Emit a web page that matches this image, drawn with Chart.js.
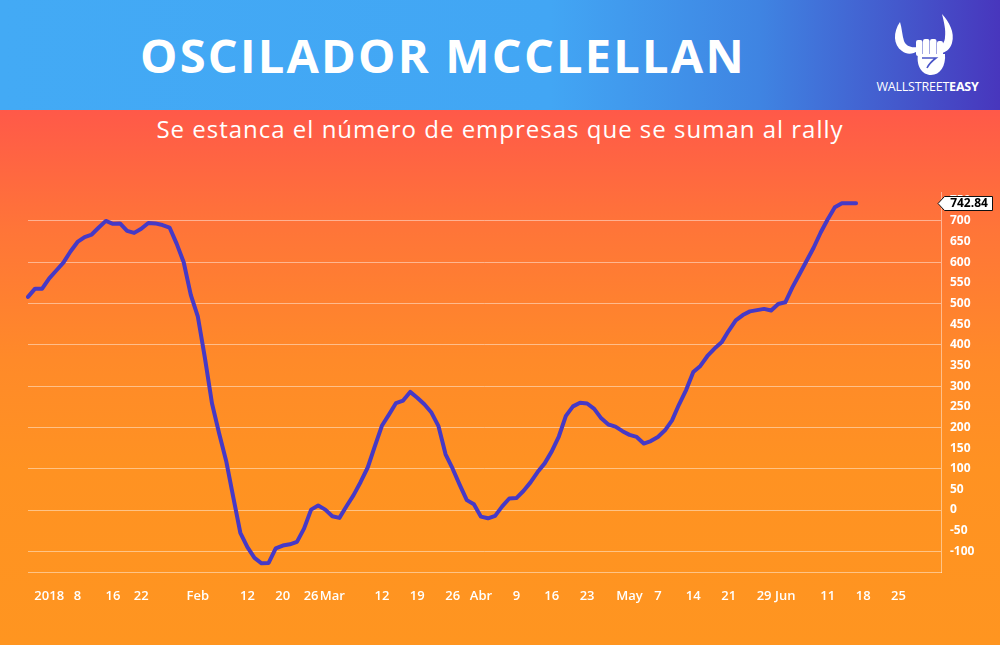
<!DOCTYPE html>
<html>
<head>
<meta charset="utf-8">
<script src="https://cdn.jsdelivr.net/npm/chart.js@4.4.1/dist/chart.umd.min.js"></script>
<style>
  html, body { margin: 0; padding: 0; }
  body {
    width: 1000px; height: 645px; position: relative; overflow: hidden;
    font-family: 'Open Sans', sans-serif;
    background: linear-gradient(180deg, #ff5949 110px, #ff7538 230px, #ff8a29 360px, #ff9222 470px, #ff9520 645px);
  }
  #header {
    position: absolute; left: 0; top: 0; width: 1000px; height: 110px;
    background: linear-gradient(90deg, #43aaf5 0%, #42a6f4 55%, #3f84e2 76%, #4458cc 90%, #4836bd 100%);
  }
  #title {
    position: absolute; left: 0; top: 32px; width: 886px; text-align: center;
    color: #fff; font-weight: 700; font-size: 47px; line-height: 47px; letter-spacing: 2.2px;
  }
  #subtitle {
    position: absolute; left: 0; top: 114px; width: 1000px; text-align: center;
    color: #fff; font-size: 24px; line-height: 30px; letter-spacing: 1px;
  }
  #logo { position: absolute; left: 870px; top: 8px; width: 115px; height: 90px; }
  #logo-text {
    position: absolute; left: 866px; top: 79px; width: 123px; text-align: center;
    color: #fff; font-size: 12.5px; line-height: 15px; letter-spacing: -0.2px;
  }
  #logo-text b { font-weight: 700; }
  #chart { position: absolute; left: 0; top: 0; }
</style>
</head>
<body>
<div id="header"></div>
<div id="title">OSCILADOR MCCLELLAN</div>
<svg id="logo" viewBox="870 8 115 90">
  <path d="M900 22 C893 32 893 45 902 51 C907 55 913 54 918 51 L917 47 C911 48 906 46 904 41 C902 35 902 28 900 22 Z" fill="#fff"/>
  <path d="M942 14 C949 22 955 32 952 43 C950 50 944 54 938 53 L938 47 C942 46 945 42 945 37 C946 30 944 22 942 14 Z" fill="#fff"/>
  <rect x="916" y="40" width="6.5" height="16" rx="2" fill="#fff"/>
  <rect x="923" y="39" width="6.5" height="17" rx="2" fill="#fff"/>
  <rect x="930" y="39" width="6.5" height="17" rx="2" fill="#fff"/>
  <rect x="937" y="41" width="6" height="15" rx="2" fill="#fff"/>
  <path d="M918 54 L945 54 C946 66 940 75 931 75 C922 75 916 66 918 54 Z" fill="#fff"/>
  <path d="M922 58 L936 58 C932 61 929 64 927 68" fill="none" stroke="#4a55c8" stroke-width="1.6"/>
</svg>
<div id="logo-text">WALLSTREET<b>EASY</b></div>
<div id="subtitle">Se estanca el número de empresas que se suman al rally</div>
<canvas id="chart" width="1000" height="645"></canvas>
<script>
// trading days shown on the axis (Dec 27 2017 .. Jul 3 2018)
let dec17 = [27, 28, 29]
let jan = [2, 3, 4, 5, 8, 9, 10, 11, 12, 16, 17, 18, 19, 22, 23, 24, 25, 26, 29, 30, 31]
let feb = [1, 2, 5, 6, 7, 8, 9, 12, 13, 14, 15, 16, 20, 21, 22, 23, 26, 27, 28]
let mar = [1, 2, 5, 6, 7, 8, 9, 12, 13, 14, 15, 16, 19, 20, 21, 22, 23, 26, 27, 28, 29]
let abr = [2, 3, 4, 5, 6, 9, 10, 11, 12, 13, 16, 17, 18, 19, 20, 23, 24, 25, 26, 27, 30]
let may = [1, 2, 3, 4, 7, 8, 9, 10, 11, 14, 15, 16, 17, 18, 21, 22, 23, 24, 25, 29, 30, 31]
let jun = [1, 4, 5, 6, 7, 8, 11, 12, 13, 14, 15, 18, 19, 20, 21, 22, 25, 26, 27, 28, 29]
let jul = [2, 3]

// McClellan oscillator, one value per trading day from Dec 27 2017
let mcclellan = [
	516, 536, 536,
	561, 580, 599, 626, 649, 661, 667, 684, 700, 693, 694, 676, 671, 681, 695, 694, 690, 684, 645, 600, 521,
	468, 368, 258, 186, 119, 31, -55, -90, -116, -129, -128, -93, -86, -83, -77, -45, 1, 11, 1,
	-15, -19, 9, 36, 68, 103, 154, 204, 231, 259, 265, 286, 272, 256, 236, 203, 135, 100, 61, 24, 14,
	-16, -20, -14, 9, 28, 29, 46, 67, 92, 113, 142, 178, 228, 251, 260, 258, 245, 222, 207, 202, 191,
	182, 177, 161, 167, 177, 193, 217, 256, 291, 334, 349, 373, 391, 406, 434, 459, 472, 481, 484, 487, 483, 499,
	503, 539, 571, 603, 635, 672, 704, 733, 743, 743, 742.84
]

// axis labels keyed by date
let tickText = {
	'2018-01-02': '2018', '2018-01-08': '8', '2018-01-16': '16', '2018-01-22': '22',
	'2018-02-01': 'Feb', '2018-02-12': '12', '2018-02-20': '20', '2018-02-26': '26',
	'2018-03-01': 'Mar', '2018-03-12': '12', '2018-03-19': '19', '2018-03-26': '26',
	'2018-04-02': 'Abr', '2018-04-09': '9', '2018-04-16': '16', '2018-04-23': '23',
	'2018-05-01': 'May', '2018-05-07': '7', '2018-05-14': '14', '2018-05-21': '21', '2018-05-29': '29',
	'2018-06-01': 'Jun', '2018-06-11': '11', '2018-06-18': '18', '2018-06-25': '25'
}

let pad = n => String(n).padStart(2, '0')
let labels = []
let addMonth = (year, month, days) => days.forEach(d => labels.push(`${year}-${pad(month)}-${pad(d)}`))
addMonth(2017, 12, dec17)
addMonth(2018, 1, jan)
addMonth(2018, 2, feb)
addMonth(2018, 3, mar)
addMonth(2018, 4, abr)
addMonth(2018, 5, may)
addMonth(2018, 6, jun)
addMonth(2018, 7, jul)

let lastValue = mcclellan[mcclellan.length - 1]
let paleLine = 'rgba(255, 255, 255, 0.45)'

// last value tag on the right axis
const lastValueTag = {
	id: 'lastValueTag',
	afterDraw(chart) {
		const ctx = chart.ctx
		const right = chart.chartArea.right
		const y = Math.round(chart.scales.y.getPixelForValue(lastValue)) + 0.5
		ctx.save()
		ctx.beginPath()
		ctx.moveTo(right - 3, y)
		ctx.lineTo(right + 3.5, y - 7)
		ctx.lineTo(right + 51.5, y - 7)
		ctx.lineTo(right + 51.5, y + 7)
		ctx.lineTo(right + 3.5, y + 7)
		ctx.closePath()
		ctx.fillStyle = '#fff'
		ctx.fill()
		ctx.strokeStyle = '#111'
		ctx.lineWidth = 1
		ctx.stroke()
		ctx.fillStyle = '#000'
		ctx.font = "bold 12px 'Open Sans'"
		ctx.textAlign = 'center'
		ctx.textBaseline = 'middle'
		ctx.fillText(lastValue.toFixed(2), right + 28, y + 0.5)
		ctx.restore()
	}
}

Chart.defaults.font.family = "'Open Sans', sans-serif"

new Chart(document.getElementById('chart'), {
	type: 'line',
	data: {
		labels,
		datasets: [{
			label: 'McClellan',
			data: mcclellan,
			borderColor: '#4639c6',
			borderWidth: 4,
			pointRadius: 0,
			tension: 0,
			borderJoinStyle: 'round',
			borderCapStyle: 'round',
			fill: false
		}]
	},
	options: {
		responsive: false,
		animation: false,
		layout: { padding: { left: 28, top: 192, right: 0, bottom: 0 } },
		plugins: { legend: { display: false }, tooltip: { enabled: false } },
		scales: {
			x: {
				type: 'category',
				offset: false,
				grid: { display: false, drawTicks: false },
				border: { display: true, color: paleLine },
				afterFit: scale => { scale.height = 73 },
				ticks: {
					autoSkip: false,
					maxRotation: 0,
					padding: 16,
					color: '#fff',
					font: { size: 13, weight: '600' },
					callback: (value, index) => tickText[labels[index]] || ''
				}
			},
			y: {
				position: 'right',
				min: -150,
				max: 770,
				grid: {
					drawTicks: false,
					color: ctx => (ctx.tick && ctx.tick.value % 100 === 0 && ctx.tick.value >= -100) ? paleLine : 'transparent'
				},
				border: { display: true, color: paleLine },
				afterFit: scale => { scale.width = 59 },
				ticks: {
					stepSize: 50,
					includeBounds: false,
					padding: 9,
					color: '#fff',
					font: { size: 12, weight: 'bold' },
					callback: value => value < -100 ? '' : value
				}
			}
		}
	},
	plugins: [lastValueTag]
})
</script>
</body>
</html>
